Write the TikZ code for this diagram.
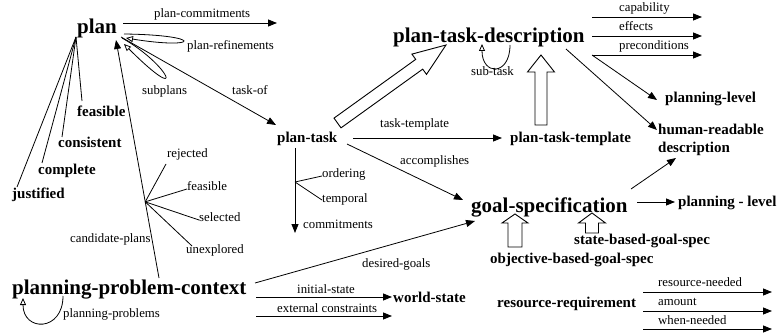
\documentclass[tikz,border=0pt]{standalone}
\usepackage{fontspec}
\setmainfont{Liberation Serif}
\usetikzlibrary{arrows.meta,calc}
\newcommand\hollowarr[5]{%
\draw[hollow] let \p1=($(#2)-(#1)$), \n1={atan2(\y1,\x1)} in
 ($(#1)+(\n1+90:#3)$) -- ($(#2)+(\n1+180:#5)+(\n1+90:#3)$) -- ($(#2)+(\n1+180:#5)+(\n1+90:#4)$) -- (#2)
 -- ($(#2)+(\n1+180:#5)+(\n1-90:#4)$) -- ($(#2)+(\n1+180:#5)+(\n1-90:#3)$) -- ($(#1)+(\n1-90:#3)$) -- cycle;}
\begin{document}
\begin{tikzpicture}[x=1pt,y=-1pt,
  big/.style={font=\fontsize{21}{24}\selectfont\bfseries, anchor=base west, inner sep=0pt},
  mid/.style={font=\fontsize{15}{18}\selectfont\bfseries, anchor=base west, inner sep=0pt},
  lab/.style={font=\fontsize{12.8}{14}\selectfont, anchor=base west, inner sep=0pt},
  con/.style={line width=0.8pt},
  arr/.style={con, -{Triangle[length=9pt,width=7pt]}},
  oarr/.style={con, -{Triangle[open,length=7pt,width=6pt]}},
  hollow/.style={line width=0.9pt, fill=white, line join=miter},
]
\useasboundingbox (0,0) rectangle (777,334);
% ---------- main nodes
\node[big] (plan) at (77,34) {plan};
\node[mid] (feas) at (77,117) {feasible};
\node[mid] (cons) at (58,148) {consistent};
\node[mid] (compl) at (38,175) {complete};
\node[mid] (just) at (12,199) {justified};
\node[big] (ppc) at (12,294) {planning-problem-context};
\node[mid] (pt) at (277,143) {plan-task};
\node[big] (ptd) at (393,43) {plan-task-description};
\node[mid] (ptt) at (510,143) {plan-task-template};
\node[big] (gs) at (471,212) {goal-specification};
\node[mid] (pl1) at (665,103) {planning-level};
\node[mid] (hr) at (658,153) {\begin{tabular}[b]{@{}l@{}}human-readable\\description\end{tabular}};
\node[mid] (pl2) at (678,207) {planning - level};
\node[mid] (sbgs) at (574,244) {state-based-goal-spec};
\node[mid] (obgs) at (490,263) {objective-based-goal-spec};
\node[mid] (ws) at (393,302) {world-state};
\node[mid] (rr) at (497,307) {resource-requirement};
% ---------- labels
\node[lab] (lpc) at (154,18) {plan-commitments};
\node[lab] (lpr) at (187,50) {plan-refinements};
\node[lab] (lsp) at (142,95) {subplans};
\node[lab] (lto) at (232,95) {task-of};
\node[lab] (lrej) at (167,158) {rejected};
\node[lab] (lfea) at (187,191) {feasible};
\node[lab] (lsel) at (199,222) {selected};
\node[lab] (lune) at (186,253) {unexplored};
\node[lab] (lcp) at (70,242) {candidate-plans};
\node[lab] (lpp) at (63,317) {planning-problems};
\node[lab] (lcap) at (619,12) {capability};
\node[lab] (leff) at (619,31) {effects};
\node[lab] (lpre) at (619,50) {preconditions};
\node[lab] (lst) at (471,76) {sub-task};
\node[lab] (ltt) at (380,128) {task-template};
\node[lab] (lacc) at (400,165) {accomplishes};
\node[lab] (lord) at (322,178) {ordering};
\node[lab] (ltem) at (322,203) {temporal};
\node[lab] (lcom) at (303,229) {commitments};
\node[lab] (ldg) at (362,267) {desired-goals};
\node[lab] (lis) at (297,293) {initial-state};
\node[lab] (lec) at (277,312) {external constraints};
\node[lab] (lrn) at (658,286) {resource-needed};
\node[lab] (lam) at (658,305) {amount};
\node[lab] (lwn) at (658,324) {when-needed};
% ---------- coordinates
\coordinate (pcS) at (123,23); \coordinate (pcE) at (277,23);
\coordinate (toS) at (121,37); \coordinate (toE) at (276,125);
\coordinate (fan) at (76,37);
\coordinate (fanA) at (82,101); \coordinate (fanB) at (62,137);
\coordinate (fanC) at (42,163); \coordinate (fanD) at (17,187);
\coordinate (cpS) at (159,278); \coordinate (cpE) at (116,40);
\coordinate (bp) at ($(cpS)!0.32!(cpE)$);
\coordinate (brA) at (166,164); \coordinate (brB) at (187,189);
\coordinate (brC) at (199,220); \coordinate (brD) at (192,246);
\coordinate (prS) at (124,34); \coordinate (prE) at (126,38);
\coordinate (spS) at (122,38); \coordinate (spE) at (124,44);
\coordinate (ppS) at (63,296); \coordinate (ppE) at (23,298);
\coordinate (stS) at (510,45); \coordinate (stE) at (482,44);
\coordinate (vS) at (295,148); \coordinate (vE) at (295,233);
\coordinate (vB) at (295,182);
\coordinate (ordE) at (322,176); \coordinate (temE) at (322,200);
\coordinate (ttS) at (353,138); \coordinate (ttE) at (502,138);
\coordinate (acS) at (347,144); \coordinate (acE) at (463,200);
\coordinate (baS) at (337.5,123); \coordinate (baE) at (446,45);
\coordinate (tuS) at (541,125); \coordinate (tuE) at (541,55);
\coordinate (suS) at (592,233); \coordinate (suE) at (592,213);
\coordinate (ouS) at (515,247); \coordinate (ouE) at (515,214);
\coordinate (capS) at (592,17); \coordinate (capE) at (702,17);
\coordinate (effS) at (592,36); \coordinate (effE) at (702,36);
\coordinate (preS) at (592,55); \coordinate (preE) at (702,55);
\coordinate (plE) at (657,100);
\coordinate (hrS) at (566,49); \coordinate (hrE) at (657,130);
\coordinate (gdS) at (631,189); \coordinate (gdE) at (676,158);
\coordinate (glS) at (637,202); \coordinate (glE) at (675,202);
\coordinate (dgS) at (255,283); \coordinate (dgE) at (475,221);
\coordinate (isS) at (256,297); \coordinate (isE) at (392,297);
\coordinate (ecS) at (256,316); \coordinate (ecE) at (392,316);
\coordinate (rnS) at (643,292); \coordinate (rnE) at (772,292);
\coordinate (amS) at (643,311); \coordinate (amE) at (772,311);
\coordinate (wnS) at (643,329); \coordinate (wnE) at (772,329);
% ---------- connectors
\draw[arr] (pcS) -- (pcE);
\draw[arr] (toS) -- (toE);
\draw[con] (fan) -- (fanA);
\draw[con] (fan) -- (fanB);
\draw[con] (fan) -- (fanC);
\draw[con] (fan) -- (fanD);
\draw[arr] (cpS) -- (cpE);
\draw[con] (bp) -- (brA);
\draw[con] (bp) -- (brB);
\draw[con] (bp) -- (brC);
\draw[con] (bp) -- (brD);
\draw[oarr] (prS) .. controls (205,35) and (200,50) .. (prE);
\draw[oarr] (spS) .. controls (170,65) and (188,108) .. (spE);
\draw[oarr] (ppS) .. controls (63,332) and (23,332) .. (ppE);
\draw[oarr] (stS) .. controls (510,76) and (482,76) .. (stE);
\draw[arr] (vS) -- (vE);
\draw[con] (vB) -- (ordE);
\draw[con] (vB) -- (temE);
\draw[arr] (ttS) -- (ttE);
\draw[arr] (acS) -- (acE);
\hollowarr{baS}{baE}{6pt}{12.5pt}{33pt}
\hollowarr{tuS}{tuE}{6pt}{13.5pt}{17pt}
\hollowarr{suS}{suE}{6.5pt}{13.5pt}{10pt}
\hollowarr{ouS}{ouE}{7pt}{13pt}{9pt}
\draw[arr] (capS) -- (capE);
\draw[arr] (effS) -- (effE);
\draw[arr] (preS) -- (preE);
\draw[arr] (preS) -- (plE);
\draw[arr] (hrS) -- (hrE);
\draw[arr] (gdS) -- (gdE);
\draw[arr] (glS) -- (glE);
\draw[arr] (dgS) -- (dgE);
\draw[arr] (isS) -- (isE);
\draw[arr] (ecS) -- (ecE);
\draw[arr] (rnS) -- (rnE);
\draw[arr] (amS) -- (amE);
\draw[arr] (wnS) -- (wnE);
\end{tikzpicture}
\end{document}
